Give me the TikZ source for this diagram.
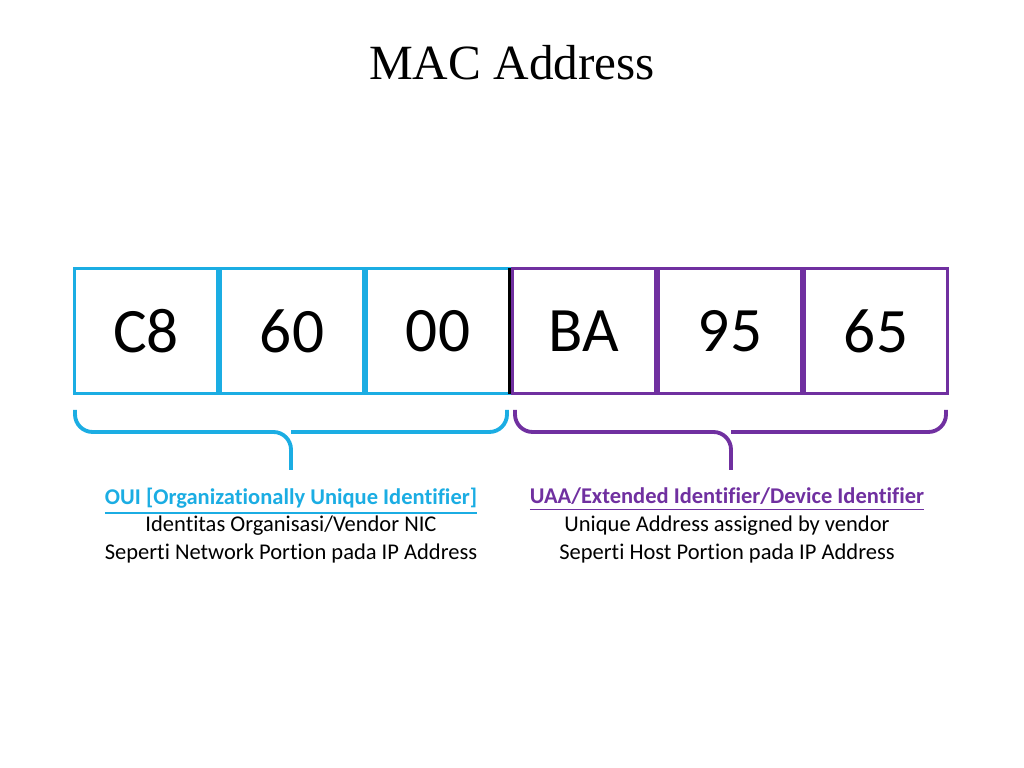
\documentclass[tikz,border=0pt]{standalone}
\usepackage{fontspec}
\setmainfont{Liberation Serif}
\newfontfamily\calib[Ligatures=NoCommon]{Carlito}
\usetikzlibrary{positioning}
\definecolor{ouiblue}{HTML}{1BADE3}
\definecolor{uaapurple}{HTML}{7030A0}

\begin{document}
\begin{tikzpicture}[
    x=0.01cm, y=-0.01cm,
    cell/.style={
        rectangle,
        draw=#1,
        line width=1pt,
        minimum width=1.46cm-1pt,
        minimum height=1.25cm,
        outer sep=0pt,
        font=\calib\fontsize{18}{22}\selectfont,
        inner sep=0pt
    },
    brace/.style={
        draw=#1,
        line width=1.1pt,
        rounded corners=5pt
    },
    caption/.style={
        font=\calib\fontsize{6.4}{7.9}\selectfont,
        align=center,
        inner sep=0pt,
        anchor=north
    }
]
\useasboundingbox (0,0) rectangle (1024,768);

% Title
\node[font=\fontsize{14}{17}\selectfont] (title) at (512,63) {MAC Address};

% Octets
\node[cell=ouiblue] (o1) at (146,331) {C8};
\node[cell=ouiblue] (o2) at (292,331) {60};
\node[cell=ouiblue] (o3) at (438,331) {00};
\node[cell=uaapurple] (u1) at (584,331) {BA};
\node[cell=uaapurple] (u2) at (730,331) {95};
\node[cell=uaapurple] (u3) at (876,331) {65};
\draw[line width=1pt] (o3.north east) -- (o3.south east);

% Braces
\coordinate (ouitip) at (291,470);
\coordinate (uaatip) at (731,470);
\draw[brace=ouiblue] (75,410) |- (291,432) -- (ouitip);
\draw[brace=ouiblue] (507,410) |- (291,432);
\draw[brace=uaapurple] (515,410) |- (731,432) -- (uaatip);
\draw[brace=uaapurple] (946,410) |- (731,432);

% Captions
\node[caption] (ouitext) at (291,487) {%
{\bfseries\color{ouiblue}\underline{OUI [Organizationally Unique Identifier]}}\\
Identitas Organisasi/Vendor NIC\\
Seperti Network Portion pada IP Address};
\node[caption] (uaatext) at (727,487) {%
{\bfseries\color{uaapurple}\underline{UAA/Extended Identifier/Device Identifier}}\\
Unique Address assigned by vendor\\
Seperti Host Portion pada IP Address};

\end{tikzpicture}
\end{document}
